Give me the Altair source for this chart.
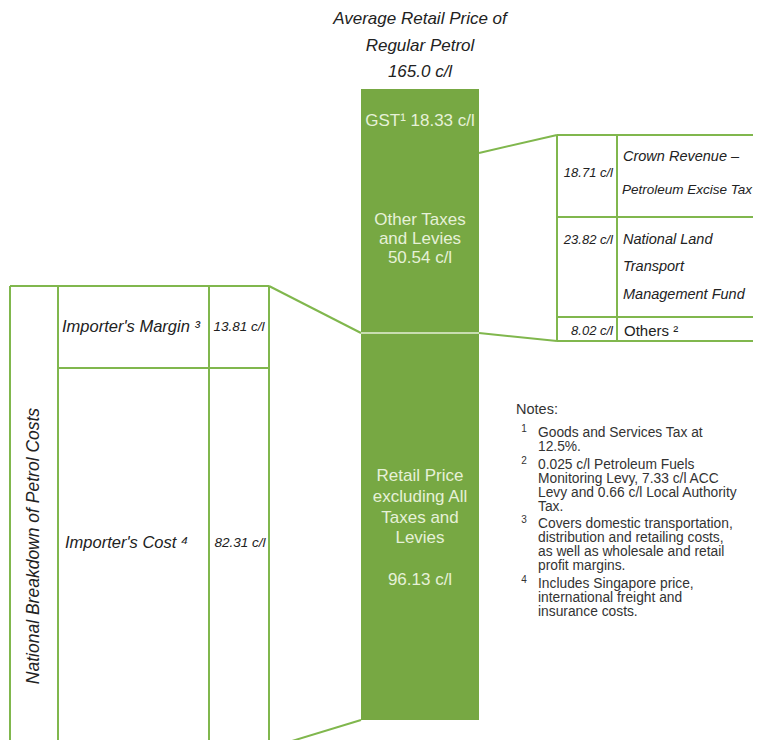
import altair as alt
import pandas as pd

# ---------------- data (cents per litre) ----------------
total_price = 165.0
bar_segments = ["Retail Price excluding All Taxes and Levies", "Other Taxes and Levies", "GST"]
bar_values = [96.13, 50.54, 18.33]
importer_items = ["Importer's Margin", "Importer's Cost"]
importer_values = [13.81, 82.31]
tax_items = ["Crown Revenue – Petroleum Excise Tax", "National Land Transport Management Fund", "Others"]
tax_values = [18.71, 23.82, 8.02]
note_marks = ["1", "2", "3", "4"]
note_texts = [
    ["Goods and Services Tax at", "12.5%."],
    ["0.025 c/l Petroleum Fuels", "Monitoring Levy, 7.33 c/l ACC", "Levy and 0.66 c/l Local Authority", "Tax."],
    ["Covers domestic transportation,", "distribution and retailing costs,", "as well as wholesale and retail", "profit margins."],
    ["Includes Singapore price,", "international freight and", "insurance costs."],
]

# ---------------- layout (page pixels) ----------------
W, H = 745, 732
LX = alt.Scale(domain=[8, 8 + W], range=[0, W])
LY = alt.Scale(domain=[8, 8 + H], range=[0, H])
BAR_L, BAR_R = 361, 479
BAR_TOP, BAR_SPLIT, BAR_BOT = 89, 333, 720
# value scale for the bar: schematic, piecewise linear
VY = alt.Scale(domain=[0, bar_values[0], total_price],
               range=[BAR_BOT - 8, BAR_SPLIT - 8, BAR_TOP - 8])

GREEN = "#77a843"
LINE = "#80b74d"
BARTXT = "#e6f1d8"
DARK = "#222222"
FONT = "Liberation Sans"

# ---------------- bar ----------------
starts, ends, acc = [], [], 0.0
for v in bar_values:
    starts.append(acc)
    acc += v
    ends.append(acc)
bar_df = pd.DataFrame({"segment": bar_segments, "start": starts, "end": ends,
                       "l": BAR_L, "r": BAR_R})
bar = alt.Chart(bar_df).mark_rect(color=GREEN).encode(
    x=alt.X("l:Q", scale=LX, axis=None), x2="r",
    y=alt.Y("start:Q", scale=VY, axis=None), y2="end",
)
divider = alt.Chart(pd.DataFrame({"v": [bar_values[0]], "l": [BAR_L], "r": [BAR_R]})).mark_rule(
    color="#e4efd6", strokeWidth=1.5).encode(
    x=alt.X("l:Q", scale=LX, axis=None), x2="r",
    y=alt.Y("v:Q", scale=VY, axis=None),
)

# ---------------- table lines & connectors ----------------
segs = []
# left table
for xv in [10, 58, 209, 269]:
    segs.append((xv, 286, xv, 760))
segs.append((10, 286, 269, 286))
segs.append((58, 368, 269, 368))
# right table
for xv in [557, 617]:
    segs.append((xv, 135, xv, 341))
for yv in [135, 217, 317, 341]:
    segs.append((557, yv, 775, yv))
# connectors
segs.append((269, 286, BAR_L, BAR_SPLIT))
segs.append((269, 748, BAR_L, BAR_BOT))
segs.append((BAR_R, 153, 557, 135))
segs.append((BAR_R, BAR_SPLIT, 557, 341))
seg_df = pd.DataFrame(segs, columns=["x", "y", "x2", "y2"])
lines = alt.Chart(seg_df).mark_rule(color=LINE, strokeWidth=2).encode(
    x=alt.X("x:Q", scale=LX, axis=None), x2="x2",
    y=alt.Y("y:Q", scale=LY, axis=None), y2="y2",
)


def text_layer(rows, size, align="center", style="normal", color=DARK, angle=0, weight="normal"):
    df = pd.DataFrame(rows, columns=["x", "y", "t"])
    return alt.Chart(df).mark_text(
        align=align, baseline="middle", font=FONT, fontSize=size, fontStyle=style,
        fontWeight=weight, color=color, angle=angle,
    ).encode(
        x=alt.X("x:Q", scale=LX, axis=None),
        y=alt.Y("y:Q", scale=LY, axis=None),
        text="t:N",
    )


cx = (BAR_L + BAR_R) / 2
title = text_layer([
    (cx, 19, "Average Retail Price of"),
    (cx, 46, "Regular Petrol"),
    (cx, 72, f"{total_price:.1f} c/l"),
], 17, style="italic")

bar_txt = text_layer([
    (cx, 121, f"GST\u00b9 {bar_values[2]:.2f} c/l"),
    (cx, 220, "Other Taxes"),
    (cx, 239, "and Levies"),
    (cx, 258, f"{bar_values[1]:.2f} c/l"),
    (cx, 476, "Retail Price"),
    (cx, 497, "excluding All"),
    (cx, 518, "Taxes and"),
    (cx, 538, "Levies"),
    (cx, 580, f"{bar_values[0]:.2f} c/l"),
], 17, color=BARTXT)

left_lbl = text_layer([
    (62, 327, importer_items[0] + " \u00b3"),
    (65, 543, importer_items[1] + " \u2074"),
], 16.5, align="left", style="italic")
left_num = text_layer([
    (239, 327, f"{importer_values[0]:.2f} c/l"),
    (240, 543, f"{importer_values[1]:.2f} c/l"),
], 13.5, style="italic")
vert = text_layer([(34, 546, "National Breakdown of Petrol Costs")], 17.5, style="italic", angle=270)

right_num = text_layer([
    (613, 173, f"{tax_values[0]:.2f} c/l"),
    (613, 240, f"{tax_values[1]:.2f} c/l"),
    (613, 331, f"{tax_values[2]:.2f} c/l"),
], 13, align="right", style="italic")
right_lbl = text_layer([
    (623, 157, "Crown Revenue \u2013"),
    (623, 240, "National  Land"),
    (623, 267, "Transport"),
    (623, 295, "Management  Fund"),
], 14.5, align="left", style="italic")
right_lbl2 = text_layer([(622, 190, "Petroleum Excise Tax")], 13.5, align="left", style="italic")
others_lbl = text_layer([(624, 331, tax_items[2] + " \u00b2")], 15, align="left")

# notes
note_rows, mark_rows = [], []
y = 433.0
for m, lines_ in zip(note_marks, note_texts):
    mark_rows.append((524, y - 4, m))
    for ln in lines_:
        note_rows.append((538, y, ln))
        y += 13.9
    y += 4.0
notes_head = text_layer([(516, 410, "Notes:")], 14.5, align="left", color="#333333")
notes_txt = text_layer(note_rows, 13.8, align="left", color="#333333")
notes_mark = text_layer(mark_rows, 10, color="#333333")

chart = alt.layer(
    lines, bar, divider, title, bar_txt, left_lbl, left_num, vert,
    right_num, right_lbl, right_lbl2, others_lbl, notes_head, notes_txt, notes_mark,
).resolve_scale(x="independent", y="independent").properties(
    width=W, height=H, padding=0, autosize=alt.AutoSizeParams(type="none"),
    background="white",
).configure_view(strokeWidth=0)

chart.save("out.html", embed_options={"renderer": "svg", "actions": False})
